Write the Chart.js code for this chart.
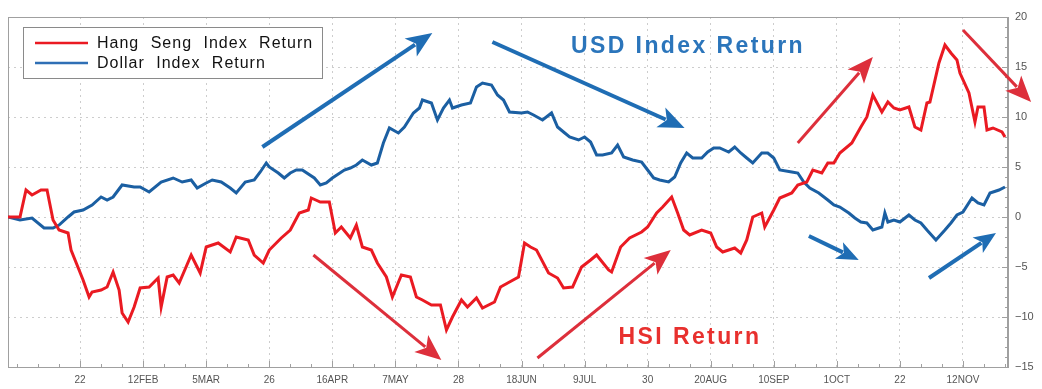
<!DOCTYPE html>
<html>
<head>
<meta charset="utf-8">
<script src="https://cdn.jsdelivr.net/npm/chart.js@4.4.1/dist/chart.umd.min.js"></script>
<style>
  html, body { margin: 0; padding: 0; background: #fff; }
  #wrap { width: 1042px; height: 389px; }
</style>
</head>
<body>
<div id="wrap"><canvas id="chart" width="1042" height="389"></canvas></div>
<script>
// day 0 = 1 Jan
const hsiDays = [-3, 1, 3, 5, 8, 10, 12, 14, 17, 18, 20, 22, 24, 25, 28, 30, 32, 34, 35, 37, 39, 41, 44, 47, 48, 50, 52, 54, 58, 61, 63, 67, 71, 73, 77, 79, 82, 84, 88, 91, 94, 97, 98, 101, 104, 106, 108, 111, 113, 115, 118, 120, 123, 125, 128, 131, 133, 135, 138, 141, 143, 145, 148, 150, 153, 155, 159, 161, 164, 167, 169, 171, 173, 177, 180, 182, 185, 188, 191, 193, 197, 198, 201, 204, 208, 210, 213, 215, 218, 220, 222, 224, 228, 231, 233, 235, 239, 241, 243, 245, 248, 249, 252, 254, 258, 260, 263, 265, 268, 270, 272, 274, 278, 281, 283, 285, 288, 290, 292, 294, 297, 299, 301, 303, 304, 307, 309, 311, 313, 314, 317, 319, 320, 322, 323, 325, 328, 329];
const hsiValues = [0, 0, 2.7, 2.2, 2.7, 2.7, -0.3, -1.3, -1.6, -3.3, -4.8, -6.3, -8.0, -7.5, -7.3, -7.0, -5.5, -7.3, -9.6, -10.5, -9.0, -7.1, -7.0, -6.1, -9.0, -6.0, -5.8, -6.6, -3.8, -5.6, -3.0, -2.6, -3.5, -2.0, -2.3, -3.8, -4.6, -3.3, -2.1, -1.3, 0.4, 0.7, 1.9, 1.5, 1.5, -1.6, -1.0, -2.1, -0.8, -3.0, -3.3, -4.6, -6.0, -8.0, -5.8, -6.0, -8.0, -8.3, -8.8, -8.8, -11.3, -10.0, -8.3, -9.0, -8.1, -9.1, -8.5, -7.0, -6.5, -6.0, -2.6, -3.0, -3.3, -5.6, -6.1, -7.1, -7.0, -5.0, -4.3, -3.8, -5.3, -5.5, -3.0, -2.1, -1.5, -1.0, 0.4, 1.0, 2.0, 0.4, -1.3, -1.8, -1.3, -1.6, -3.0, -3.5, -3.1, -3.6, -2.3, 0, 0.4, -1.0, 0.7, 1.9, 2.4, 3.2, 3.5, 4.7, 4.4, 5.4, 5.4, 6.4, 7.4, 9.0, 10.0, 12.2, 10.5, 11.5, 10.9, 10.7, 11.0, 9.0, 8.7, 11.4, 11.5, 15.4, 17.2, 16.4, 15.7, 14.4, 12.4, 9.5, 11.0, 11.0, 8.7, 8.9, 8.5, 8.0];

const usdDays = [-3, 1, 5, 9, 12, 14, 17, 19, 22, 25, 28, 30, 32, 35, 39, 41, 44, 48, 52, 55, 58, 60, 63, 65, 68, 71, 73, 76, 79, 81, 83, 84, 87, 89, 91, 93, 95, 99, 101, 103, 105, 109, 111, 113, 115, 118, 120, 122, 124, 127, 129, 132, 134, 135, 138, 140, 142, 144, 145, 148, 151, 153, 155, 158, 160, 162, 164, 168, 170, 172, 175, 178, 180, 182, 184, 187, 189, 191, 193, 195, 198, 200, 202, 205, 208, 210, 212, 214, 217, 219, 221, 223, 225, 228, 230, 232, 234, 237, 239, 241, 243, 245, 248, 250, 252, 254, 258, 260, 262, 264, 267, 270, 272, 274, 277, 279, 281, 283, 285, 288, 289, 290, 292, 294, 297, 299, 301, 303, 306, 309, 311, 313, 315, 318, 320, 322, 324, 327, 329];
const usdValues = [0, -0.3, -0.1, -1.1, -1.1, -0.8, 0, 0.5, 0.7, 1.2, 2.0, 1.7, 2.0, 3.2, 3.0, 3.0, 2.5, 3.5, 3.9, 3.5, 3.7, 2.9, 3.4, 3.7, 3.5, 2.9, 2.4, 3.5, 3.7, 4.5, 5.4, 5.0, 4.4, 3.9, 4.4, 4.7, 4.7, 3.9, 3.2, 3.4, 3.9, 4.7, 4.9, 5.2, 5.7, 5.2, 5.4, 7.4, 8.9, 8.4, 9.0, 10.4, 10.9, 11.7, 11.4, 9.7, 10.9, 11.7, 10.9, 11.2, 11.4, 13.0, 13.4, 13.2, 12.2, 11.7, 10.5, 10.4, 10.5, 10.2, 9.7, 10.4, 9.0, 8.5, 8.0, 7.7, 8.0, 7.5, 6.2, 6.2, 6.4, 7.2, 6.0, 5.7, 5.5, 4.7, 3.9, 3.7, 3.5, 4.0, 5.4, 6.4, 5.9, 5.9, 6.5, 6.9, 6.9, 6.5, 7.0, 6.4, 5.9, 5.4, 6.4, 6.4, 5.9, 4.7, 4.5, 4.4, 3.5, 2.9, 2.4, 1.7, 1.2, 1.0, 0.4, -0.1, -0.5, -0.6, -1.3, -1.0, 0.4, -0.5, -0.3, -0.5, 0.2, -0.3, -0.6, -1.3, -2.3, -1.3, -0.6, 0.2, 0.5, 1.9, 1.4, 1.2, 2.4, 2.7, 3.0];

const tickDays = [21, 42, 63, 84, 105, 126, 147, 168, 189, 210, 231, 252, 273, 294, 315];
const tickLabels = ['22', '12FEB', '5MAR', '26', '16APR', '7MAY', '28', '18JUN', '9JUL', '30', '20AUG', '10SEP', '1OCT', '22', '12NOV'];
const yTicks = [-15, -10, -5, 0, 5, 10, 15, 20];

const seriesNames = ['Hang Seng Index Return', 'Dollar Index Return'];
const RED = '#ea1a22';
const BLUE = '#1b5fa2';
const FONT = '"Liberation Sans", Arial, sans-serif';

// annotation arrows, in (day, value) units
const arrows = [
  { from: [81.7, 7.0], to: [138.3, 18.4], color: '#1f6db4', w: 4, head: 26 },
  { from: [158.3, 17.5], to: [222.3, 8.9], color: '#1f6db4', w: 4, head: 26 },
  { from: [263.7, -1.9], to: [280.3, -4.3], color: '#1f6db4', w: 4, head: 22 },
  { from: [303.7, -6.1], to: [326, -1.6], color: '#1f6db4', w: 4, head: 22 },
  { from: [98.7, -3.8], to: [141.3, -14.3], color: '#dd2f3b', w: 3, head: 26 },
  { from: [173.3, -14.1], to: [217.7, -3.3], color: '#dd2f3b', w: 3, head: 26 },
  { from: [260, 7.4], to: [285, 16], color: '#dd2f3b', w: 3, head: 26 },
  { from: [315, 18.7], to: [337.7, 11.5], color: '#dd2f3b', w: 3, head: 26 }
];

function drawArrow(ctx, x1, y1, x2, y2, color, w, head) {
  const ang = Math.atan2(y2 - y1, x2 - x1);
  const bx = x2 - Math.cos(ang) * head * 0.8;
  const by = y2 - Math.sin(ang) * head * 0.8;
  ctx.strokeStyle = color;
  ctx.fillStyle = color;
  ctx.lineWidth = w;
  ctx.beginPath();
  ctx.moveTo(x1, y1);
  ctx.lineTo(bx, by);
  ctx.stroke();
  const hw = head * 0.42;
  const px = x2 - Math.cos(ang) * head;
  const py = y2 - Math.sin(ang) * head;
  ctx.beginPath();
  ctx.moveTo(x2, y2);
  ctx.lineTo(px + Math.sin(ang) * hw, py - Math.cos(ang) * hw);
  ctx.lineTo(x2 - Math.cos(ang) * head * 0.75, y2 - Math.sin(ang) * head * 0.75);
  ctx.lineTo(px - Math.sin(ang) * hw, py + Math.cos(ang) * hw);
  ctx.closePath();
  ctx.fill();
}

const extras = {
  id: 'extras',
  beforeDatasetsDraw(chart) {
    const { ctx, chartArea: a, scales } = chart;
    ctx.save();
    // frame
    ctx.strokeStyle = '#a0a0a0';
    ctx.lineWidth = 1;
    ctx.strokeRect(Math.round(a.left) + 0.5, Math.round(a.top) + 0.5, Math.round(a.right - a.left) - 1, Math.round(a.bottom - a.top));
    // minor ticks on the right axis
    ctx.beginPath();
    for (let v = -15; v <= 20; v++) {
      const y = Math.round(scales.y.getPixelForValue(v)) + 0.5;
      const len = v % 5 === 0 ? 6 : 3;
      ctx.moveTo(a.right, y);
      ctx.lineTo(a.right - len, y);
    }
    // weekly ticks on the bottom
    for (let d = 0; d <= 329; d += 7) {
      const x = Math.round(scales.x.getPixelForValue(d)) + 0.5;
      const len = tickDays.includes(d) ? 6 : 3;
      ctx.moveTo(x, a.bottom);
      ctx.lineTo(x, a.bottom - len);
    }
    ctx.stroke();
    ctx.restore();
  },
  afterDraw(chart) {
    const { ctx, scales } = chart;
    ctx.save();
    arrows.forEach(ar => {
      drawArrow(ctx,
        scales.x.getPixelForValue(ar.from[0]), scales.y.getPixelForValue(ar.from[1]),
        scales.x.getPixelForValue(ar.to[0]), scales.y.getPixelForValue(ar.to[1]),
        ar.color, ar.w, ar.head);
    });

    // big labels
    ctx.textBaseline = 'middle';
    ctx.textAlign = 'center';
    ctx.font = 'bold 23px ' + FONT;
    ctx.letterSpacing = '2.4px';
    ctx.fillStyle = '#2b75bb';
    ctx.fillText('USD Index Return', 688, 47);
    ctx.fillStyle = '#e8302e';
    ctx.fillText('HSI Return', 690, 338);

    // legend box
    ctx.letterSpacing = '1px';
    ctx.fillStyle = '#fff';
    ctx.fillRect(23, 27, 299, 51);
    ctx.strokeStyle = '#8a8a8a';
    ctx.lineWidth = 1;
    ctx.strokeRect(23.5, 27.5, 299, 51);
    const colors = [RED, '#2f6fb5'];
    seriesNames.forEach((name, i) => {
      const y = 43 + i * 20;
      ctx.strokeStyle = colors[i];
      ctx.lineWidth = 2.5;
      ctx.beginPath();
      ctx.moveTo(35, y);
      ctx.lineTo(88, y);
      ctx.stroke();
      ctx.fillStyle = '#111';
      ctx.font = '16px ' + FONT;
      ctx.textAlign = 'left';
      ctx.wordSpacing = '6px';
      ctx.fillText(name, 97, y + 1);
    });
    ctx.restore();
  }
};

const ctx = document.getElementById('chart').getContext('2d');
new Chart(ctx, {
  type: 'line',
  data: {
    datasets: [
      {
        label: seriesNames[0],
        data: hsiDays.map((d, i) => ({ x: d, y: hsiValues[i] })),
        borderColor: RED,
        borderWidth: 3,
        pointRadius: 0,
        tension: 0
      },
      {
        label: seriesNames[1],
        data: usdDays.map((d, i) => ({ x: d, y: usdValues[i] })),
        borderColor: BLUE,
        borderWidth: 3,
        pointRadius: 0,
        tension: 0
      }
    ]
  },
  options: {
    responsive: false,
    animation: false,
    layout: { padding: { left: 8, top: 17, right: 0, bottom: 0 } },
    plugins: {
      legend: { display: false },
      tooltip: { enabled: false }
    },
    scales: {
      x: {
        type: 'linear',
        min: -3,
        max: 330,
        afterBuildTicks: s => { s.ticks = tickDays.map(v => ({ value: v })); },
        afterFit: s => { s.height = 22; },
        ticks: {
          autoSkip: false,
          maxRotation: 0,
          padding: 7,
          color: '#555',
          font: { size: 10, family: FONT },
          callback: v => tickLabels[tickDays.indexOf(v)]
        },
        grid: { color: '#cdcdcd', drawTicks: false },
        border: { display: true, color: '#a0a0a0', dash: [2, 4] }
      },
      y: {
        position: 'right',
        min: -15,
        max: 20,
        afterBuildTicks: s => { s.ticks = yTicks.map(v => ({ value: v })); },
        afterFit: s => { s.width = 34; },
        ticks: {
          padding: 7,
          color: '#555',
          font: { size: 11, family: FONT },
          callback: v => (v < 0 ? '\u2212' + Math.abs(v) : String(v))
        },
        grid: { color: '#cdcdcd', drawTicks: false },
        border: { display: true, color: '#a0a0a0', dash: [2, 4] }
      }
    }
  },
  plugins: [extras]
});
</script>
</body>
</html>
